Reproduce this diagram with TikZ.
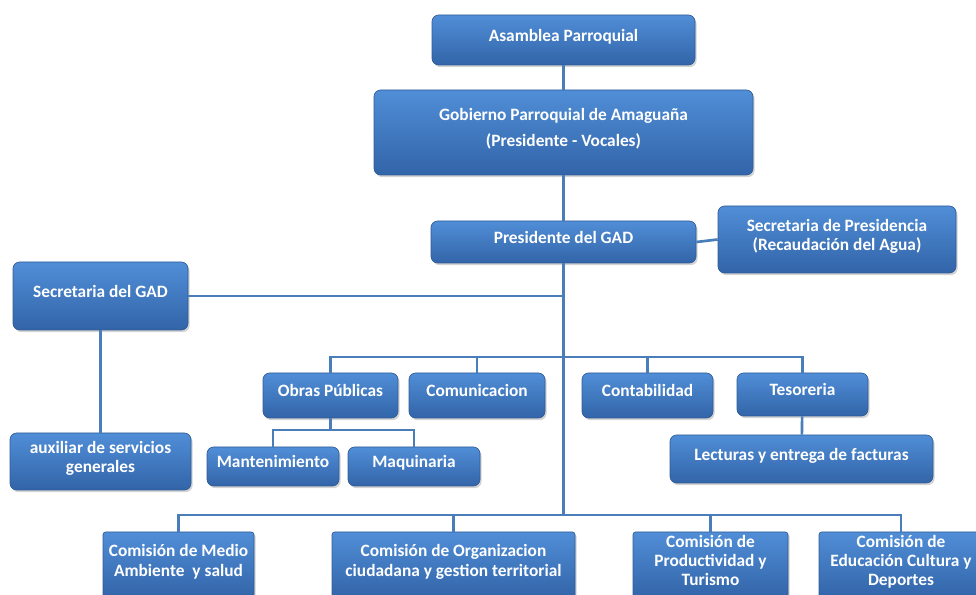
\documentclass[tikz,border=0pt]{standalone}
\usepackage{fontspec}
\setmainfont{Carlito}
\usetikzlibrary{shadows}
\definecolor{boxtop}{RGB}{80,142,215}
\definecolor{boxbot}{RGB}{50,100,168}
\definecolor{boxedge}{RGB}{48,92,150}
\definecolor{linec}{RGB}{74,126,187}
\newcommand\dnpad{\rule[-7pt]{0pt}{0pt}}
\begin{document}
\begin{tikzpicture}[x=0.75pt,y=-0.75pt,
  box/.style={rectangle, rounded corners=5pt, top color=boxtop, bottom color=boxbot,
    draw=boxedge, line width=0.5pt,
    drop shadow={opacity=0.35,shadow xshift=1.2pt,shadow yshift=-1.6pt},
    text=white, font=\fontsize{13}{14.5}\selectfont\bfseries, align=center,
    inner sep=0pt, execute at end node=\dnpad},
  combox/.style={box, rounded corners=2pt},
  sz/.style 2 args={minimum width={#1*0.75pt}, minimum height={#2*0.75pt}},
  conn/.style={draw=linec, line width=2pt}]
\clip (0,0) rectangle (976,595);
\useasboundingbox (0,0) rectangle (976,595);

\node[box, sz={263}{50}] (asam) at (563.5,40) {Asamblea Parroquial};
\node[box, sz={379}{85}] (gob) at (563.5,132.5) {Gobierno Parroquial de Amaguaña\\[5pt](Presidente - Vocales)};
\node[box, sz={265}{42}] (pres) at (563.5,242) {Presidente del GAD};
\node[box, sz={238}{67}] (secpres) at (837,239.5) {Secretaria de Presidencia\\(Recaudación del Agua)};
\node[box, sz={175}{68}] (secgad) at (100.5,296) {Secretaria del GAD};
\node[box, sz={181}{57}] (aux) at (100.5,461.5) {auxiliar de servicios\\generales};
\node[box, sz={135}{45}] (obras) at (330.5,395.5) {Obras Públicas};
\node[box, sz={136}{45}] (comu) at (477,395.5) {Comunicacion};
\node[box, sz={131}{45}] (conta) at (647.5,395.5) {Contabilidad};
\node[box, sz={131}{43}] (tes) at (802.5,394.5) {Tesoreria};
\node[box, sz={132}{39}] (mant) at (273,466.5) {Mantenimiento};
\node[box, sz={132}{39}] (maq) at (414,466.5) {Maquinaria};
\node[box, sz={263}{48}] (lect) at (801.5,459) {Lecturas y entrega de facturas};
\node[combox, sz={151}{66}] (com1) at (178.5,565) {Comisión de Medio\\Ambiente\ \ y salud};
\node[combox, sz={243}{66}] (com2) at (453.5,565) {Comisión de Organizacion\\ciudadana y gestion territorial};
\node[combox, sz={155}{66}] (com3) at (710.5,565) {Comisión de\\Productividad y\\Turismo};
\node[combox, sz={164}{66}] (com4) at (901,565) {Comisión de\\Educación Cultura y\\Deportes};

\coordinate (tb) at (563.5,515);
\coordinate (mb) at (563.5,357);
\coordinate (ob) at (330.5,430);

\draw[conn] (asam) -- (gob);
\draw[conn] (gob) -- (pres);
\draw[conn] (pres.east) -- (secpres.west);
\draw[conn] (pres.south) -- (tb);
\draw[conn] (secgad.east) -- (secgad.east -| pres.south);
\draw[conn] (secgad) -- (aux);
\draw[conn] (obras.north) |- (mb) -| (tes.north);
\draw[conn] (comu.north) -- (comu.north |- mb);
\draw[conn] (conta.north) -- (conta.north |- mb);
\draw[conn] (obras.south) -- (ob);
\draw[conn] (mant.north) |- (ob) -| (maq.north);
\draw[conn] (tes) -- (lect);
\draw[conn] (com1.north) |- (tb) -| (com4.north);
\draw[conn] (com2.north) -- (com2.north |- tb);
\draw[conn] (com3.north) -- (com3.north |- tb);
\end{tikzpicture}
\end{document}
